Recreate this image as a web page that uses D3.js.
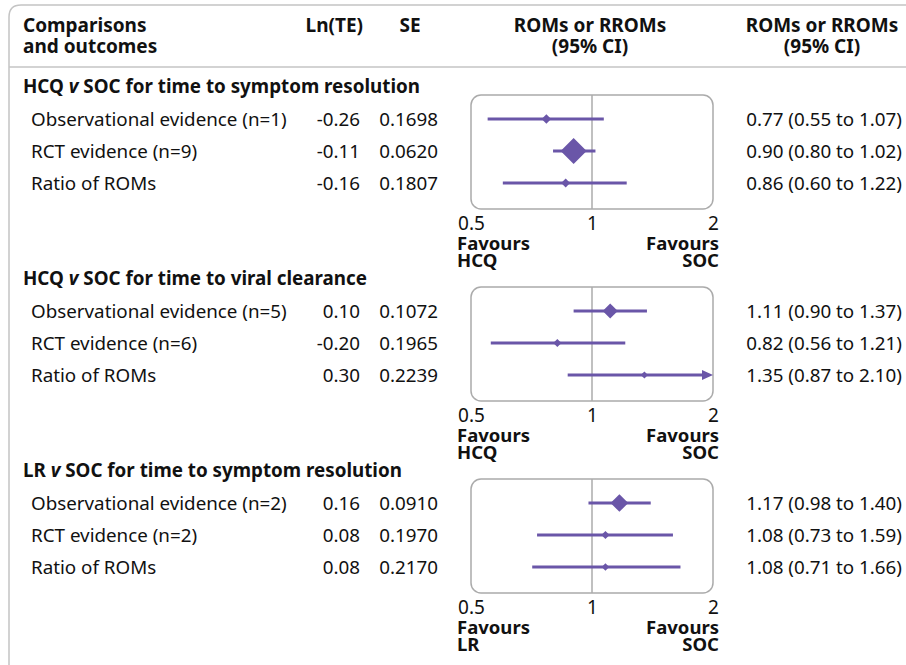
<!DOCTYPE html>
<html><head><meta charset="utf-8">
<script src="https://cdn.jsdelivr.net/npm/d3@7"></script>
<style>
html,body{margin:0;padding:0;background:#fff;}
svg{display:block;font-family:"Noto Sans",sans-serif;}
</style></head>
<body><svg id="c" width="906" height="665"></svg>
<script>
const drugs = ["HCQ", "HCQ", "LR"];
const outcomes = ["time to symptom resolution", "time to viral clearance", "time to symptom resolution"];
const rowLabels = [
  ["Observational evidence (n=1)", "RCT evidence (n=9)", "Ratio of ROMs"],
  ["Observational evidence (n=5)", "RCT evidence (n=6)", "Ratio of ROMs"],
  ["Observational evidence (n=2)", "RCT evidence (n=2)", "Ratio of ROMs"]
];
const lnTE = [[-0.26, -0.11, -0.16], [0.10, -0.20, 0.30], [0.16, 0.08, 0.08]];
const seVals = [[0.1698, 0.0620, 0.1807], [0.1072, 0.1965, 0.2239], [0.0910, 0.1970, 0.2170]];
const rom = [[0.77, 0.90, 0.86], [1.11, 0.82, 1.35], [1.17, 1.08, 1.08]];
const ciLow = [[0.55, 0.80, 0.60], [0.90, 0.56, 0.87], [0.98, 0.73, 0.71]];
const ciHigh = [[1.07, 1.02, 1.22], [1.37, 1.21, 2.10], [1.40, 1.59, 1.66]];
const tickValues = [0.5, 1, 2];
const tickLabels = ["0.5", "1", "2"];

const purple = "#6a56a8";
const grey = "#ababab";
const ink = "#111";
const svg = d3.select("#c");
const x = d3.scaleLog().domain([0.5, 2]).range([471, 713]);
const size = d3.scaleLinear().domain([0, 1 / 0.062]).range([0, 13]);
const f2 = v => d3.format(".2f")(v).replace("\u2212", "-");
const f4 = d3.format(".4f");

// outer frame
svg.append("path").attr("d", "M9,665 L9,17 Q9,5 21,5 L906,5")
  .attr("fill", "none").attr("stroke", "#c4c4c4").attr("stroke-width", 1.5);
svg.append("line").attr("x1", 9).attr("x2", 906).attr("y1", 67).attr("y2", 67)
  .attr("stroke", "#c4c4c4").attr("stroke-width", 1.5);

// header
const hdr = svg.append("g").attr("font-weight", "bold").attr("font-size", 19).attr("fill", ink);
hdr.append("text").attr("x", 23).attr("y", 32).text("Comparisons");
hdr.append("text").attr("x", 23).attr("y", 53).text("and outcomes");
hdr.append("text").attr("x", 363).attr("y", 32).attr("text-anchor", "end").text("Ln(TE)");
hdr.append("text").attr("x", 410).attr("y", 32).attr("text-anchor", "middle").text("SE");
hdr.append("text").attr("x", 590).attr("y", 32).attr("text-anchor", "middle").text("ROMs or RROMs");
hdr.append("text").attr("x", 590).attr("y", 53).attr("text-anchor", "middle").text("(95% CI)");
hdr.append("text").attr("x", 822).attr("y", 32).attr("text-anchor", "middle").text("ROMs or RROMs");
hdr.append("text").attr("x", 822).attr("y", 53).attr("text-anchor", "middle").text("(95% CI)");

const panelTops = [95, 287, 479];
const rowOffsets = [24, 56, 88];
const boxH = 114;

panelTops.forEach((top, p) => {
  const g = svg.append("g");
  // heading
  const h = g.append("text").attr("x", 23).attr("y", top - 2).attr("font-weight", "bold")
    .attr("font-size", 18.8).attr("fill", ink);
  h.append("tspan").text(drugs[p] + " ");
  h.append("tspan").attr("font-style", "italic").text("v");
  h.append("tspan").text(" SOC for " + outcomes[p]);

  // box
  g.append("rect").attr("x", x(0.5)).attr("y", top).attr("width", x(2) - x(0.5)).attr("height", boxH)
    .attr("rx", 10).attr("fill", "none").attr("stroke", grey).attr("stroke-width", 1.5);
  g.append("line").attr("x1", x(1)).attr("x2", x(1)).attr("y1", top).attr("y2", top + boxH)
    .attr("stroke", grey).attr("stroke-width", 1.5);

  // axis
  const ax = g.append("g").attr("transform", `translate(0,${top + boxH + 21})`)
    .call(d3.axisBottom(x).tickValues(tickValues).tickFormat((d, i) => tickLabels[i]).tickSize(0).tickPadding(0));
  ax.select(".domain").remove();
  ax.selectAll("text").attr("font-size", 19).attr("fill", ink).attr("font-family", "Noto Sans").attr("dy", 0);

  const fav = g.append("g").attr("font-weight", "bold").attr("font-size", 18.5).attr("fill", ink);
  fav.append("text").attr("x", 457).attr("y", top + boxH + 41).text("Favours");
  fav.append("text").attr("x", 457).attr("y", top + boxH + 58).text(drugs[p]);
  fav.append("text").attr("x", 719).attr("y", top + boxH + 41).attr("text-anchor", "end").text("Favours");
  fav.append("text").attr("x", 719).attr("y", top + boxH + 58).attr("text-anchor", "end").text("SOC");

  rowOffsets.forEach((off, r) => {
    const cy = top + off;
    const t = g.append("g").attr("font-size", 18.8).attr("fill", ink);
    t.append("text").attr("x", 31).attr("y", cy + 7).text(rowLabels[p][r]);
    t.append("text").attr("x", 360).attr("y", cy + 7).attr("text-anchor", "end").text(f2(lnTE[p][r]));
    t.append("text").attr("x", 438).attr("y", cy + 7).attr("text-anchor", "end").text(f4(seVals[p][r]));
    t.append("text").attr("x", 902).attr("y", cy + 7).attr("text-anchor", "end")
      .text(`${f2(rom[p][r])} (${f2(ciLow[p][r])} to ${f2(ciHigh[p][r])})`);

    const hiClamped = Math.min(ciHigh[p][r], 2);
    const loClamped = Math.max(ciLow[p][r], 0.5);
    const arrow = ciHigh[p][r] > 2;
    g.append("line").attr("x1", x(loClamped)).attr("x2", x(hiClamped) - (arrow ? 8 : 0))
      .attr("y1", cy).attr("y2", cy).attr("stroke", purple).attr("stroke-width", 3);
    if (arrow) {
      const ex = x(2);
      g.append("path").attr("d", `M${ex},${cy} L${ex - 11},${cy - 5} L${ex - 11},${cy + 5} Z`).attr("fill", purple);
    }
    const s = size(1 / seVals[p][r]);
    const cx = x(rom[p][r]);
    g.append("path").attr("d", `M${cx},${cy - s} L${cx + s},${cy} L${cx},${cy + s} L${cx - s},${cy} Z`)
      .attr("fill", purple);
  });
});
</script></body></html>
